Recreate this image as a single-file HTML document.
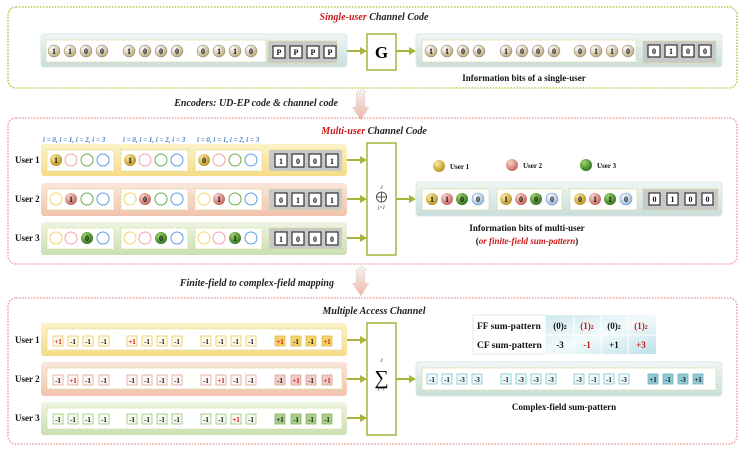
<!DOCTYPE html>
<html><head><meta charset="utf-8"><style>
html,body{margin:0;padding:0;background:#fff;}
svg{display:block;font-family:"Liberation Serif",serif;}
.b{font-size:8px;font-weight:bold;text-anchor:middle;fill:#111;}
.c{font-size:7px;font-weight:bold;text-anchor:middle;fill:#111;}
.cr{font-size:7px;font-weight:bold;text-anchor:middle;fill:#d01010;}
.t{font-size:10px;font-weight:bold;font-style:italic;text-anchor:middle;fill:#222;}
.lb{font-size:9px;font-weight:bold;fill:#111;}
.ix{font-size:7px;font-style:italic;font-weight:bold;fill:#4a7fc8;}
</style></head><body>
<svg width="748" height="456" viewBox="0 0 748 456" xmlns="http://www.w3.org/2000/svg">
<defs>
<radialGradient id="gs" cx="35%" cy="30%" r="75%"><stop offset="0" stop-color="#ffffff"/><stop offset="1" stop-color="#b9a57a"/></radialGradient>
<radialGradient id="gy" cx="35%" cy="30%" r="75%"><stop offset="0" stop-color="#fbeaa0"/><stop offset="1" stop-color="#b88f1c"/></radialGradient>
<radialGradient id="gp" cx="35%" cy="30%" r="75%"><stop offset="0" stop-color="#f9d2cc"/><stop offset="1" stop-color="#c0625a"/></radialGradient>
<radialGradient id="gg" cx="35%" cy="30%" r="75%"><stop offset="0" stop-color="#9fd36e"/><stop offset="1" stop-color="#2c7018"/></radialGradient>
<radialGradient id="gb" cx="35%" cy="30%" r="75%"><stop offset="0" stop-color="#ffffff"/><stop offset="1" stop-color="#94b5d6"/></radialGradient>
<linearGradient id="bar" x1="0" y1="0" x2="0" y2="1"><stop offset="0" stop-color="#eef6f4"/><stop offset="1" stop-color="#c9dedb"/></linearGradient>
<linearGradient id="by" x1="0" y1="0" x2="0" y2="1"><stop offset="0" stop-color="#fdf3c8"/><stop offset="1" stop-color="#f6dc86"/></linearGradient>
<linearGradient id="bp" x1="0" y1="0" x2="0" y2="1"><stop offset="0" stop-color="#fbe6dc"/><stop offset="1" stop-color="#f1c3ad"/></linearGradient>
<linearGradient id="bg" x1="0" y1="0" x2="0" y2="1"><stop offset="0" stop-color="#eef5e4"/><stop offset="1" stop-color="#cadfb3"/></linearGradient>
<linearGradient id="arr" x1="0" y1="0" x2="0" y2="1"><stop offset="0" stop-color="#f4f4f4"/><stop offset="1" stop-color="#efb5a8"/></linearGradient>
<linearGradient id="cell" x1="0" y1="0" x2="1" y2="1"><stop offset="0" stop-color="#cfe9ef"/><stop offset="0.5" stop-color="#f2fafb"/><stop offset="1" stop-color="#bfe0e8"/></linearGradient>
</defs>

<!-- PANEL 1 -->
<rect x="8" y="7" width="729" height="81" rx="8" fill="none" stroke="#b7c64a" stroke-width="1.6" stroke-dasharray="1.5 1.5"/>
<text x="374" y="20" class="t"><tspan fill="#c81818">Single-user</tspan> Channel Code</text>
<rect x="41" y="34" width="306" height="33" rx="3" fill="url(#bar)" stroke="#dfe7e4"/>
<rect x="46" y="40" width="220" height="22" fill="#fff" stroke="#d7db9a" stroke-dasharray="1.5 1"/>
<rect x="268" y="41" width="69" height="22" fill="#c8c8c8" stroke="#d7db9a" stroke-dasharray="1.5 1"/>
<g>
<circle cx="54" cy="51" r="6" fill="url(#gs)" stroke="#8a7a55" stroke-width=".5"/><text x="54" y="54" class="b">1</text>
<circle cx="70" cy="51" r="6" fill="url(#gs)" stroke="#8a7a55" stroke-width=".5"/><text x="70" y="54" class="b">1</text>
<circle cx="86" cy="51" r="6" fill="url(#gs)" stroke="#8a7a55" stroke-width=".5"/><text x="86" y="54" class="b">0</text>
<circle cx="102" cy="51" r="6" fill="url(#gs)" stroke="#8a7a55" stroke-width=".5"/><text x="102" y="54" class="b">0</text>
<circle cx="129" cy="51" r="6" fill="url(#gs)" stroke="#8a7a55" stroke-width=".5"/><text x="129" y="54" class="b">1</text>
<circle cx="145" cy="51" r="6" fill="url(#gs)" stroke="#8a7a55" stroke-width=".5"/><text x="145" y="54" class="b">0</text>
<circle cx="161" cy="51" r="6" fill="url(#gs)" stroke="#8a7a55" stroke-width=".5"/><text x="161" y="54" class="b">0</text>
<circle cx="177" cy="51" r="6" fill="url(#gs)" stroke="#8a7a55" stroke-width=".5"/><text x="177" y="54" class="b">0</text>
<circle cx="203" cy="51" r="6" fill="url(#gs)" stroke="#8a7a55" stroke-width=".5"/><text x="203" y="54" class="b">0</text>
<circle cx="219" cy="51" r="6" fill="url(#gs)" stroke="#8a7a55" stroke-width=".5"/><text x="219" y="54" class="b">1</text>
<circle cx="235" cy="51" r="6" fill="url(#gs)" stroke="#8a7a55" stroke-width=".5"/><text x="235" y="54" class="b">1</text>
<circle cx="251" cy="51" r="6" fill="url(#gs)" stroke="#8a7a55" stroke-width=".5"/><text x="251" y="54" class="b">0</text>
</g>
<g fill="#fff" stroke="#333" stroke-width="1.2">
<rect x="273" y="46" width="12" height="12"/><rect x="290" y="46" width="12" height="12"/><rect x="307" y="46" width="12" height="12"/><rect x="324" y="46" width="12" height="12"/>
</g>
<text x="279" y="55" class="b">P</text><text x="296" y="55" class="b">P</text><text x="313" y="55" class="b">P</text><text x="330" y="55" class="b">P</text>
<line x1="347" y1="51" x2="361" y2="51" stroke="#a7b43c" stroke-width="2"/><polygon points="360,47 367,51 360,55" fill="#a7b43c"/>
<rect x="367" y="34" width="29" height="36" fill="#fff" stroke="#a7b43c" stroke-width="1.5"/>
<text x="381.5" y="58" style="font-size:17px;font-weight:bold;text-anchor:middle">G</text>
<line x1="396" y1="51" x2="410" y2="51" stroke="#a7b43c" stroke-width="2"/><polygon points="409,47 416,51 409,55" fill="#a7b43c"/>
<rect x="416" y="34" width="306" height="33" rx="3" fill="url(#bar)" stroke="#dfe7e4"/>
<rect x="422" y="40" width="214" height="22" fill="#fff" stroke="#d7db9a" stroke-dasharray="1.5 1"/>
<rect x="643" y="41" width="73" height="22" fill="#c8c8c8" stroke="#d7db9a" stroke-dasharray="1.5 1"/>
<g>
<circle cx="431" cy="51" r="6" fill="url(#gs)" stroke="#8a7a55" stroke-width=".5"/><text x="431" y="54" class="b">1</text>
<circle cx="447" cy="51" r="6" fill="url(#gs)" stroke="#8a7a55" stroke-width=".5"/><text x="447" y="54" class="b">1</text>
<circle cx="463" cy="51" r="6" fill="url(#gs)" stroke="#8a7a55" stroke-width=".5"/><text x="463" y="54" class="b">0</text>
<circle cx="479" cy="51" r="6" fill="url(#gs)" stroke="#8a7a55" stroke-width=".5"/><text x="479" y="54" class="b">0</text>
<circle cx="506" cy="51" r="6" fill="url(#gs)" stroke="#8a7a55" stroke-width=".5"/><text x="506" y="54" class="b">1</text>
<circle cx="522" cy="51" r="6" fill="url(#gs)" stroke="#8a7a55" stroke-width=".5"/><text x="522" y="54" class="b">0</text>
<circle cx="538" cy="51" r="6" fill="url(#gs)" stroke="#8a7a55" stroke-width=".5"/><text x="538" y="54" class="b">0</text>
<circle cx="554" cy="51" r="6" fill="url(#gs)" stroke="#8a7a55" stroke-width=".5"/><text x="554" y="54" class="b">0</text>
<circle cx="580" cy="51" r="6" fill="url(#gs)" stroke="#8a7a55" stroke-width=".5"/><text x="580" y="54" class="b">0</text>
<circle cx="596" cy="51" r="6" fill="url(#gs)" stroke="#8a7a55" stroke-width=".5"/><text x="596" y="54" class="b">1</text>
<circle cx="612" cy="51" r="6" fill="url(#gs)" stroke="#8a7a55" stroke-width=".5"/><text x="612" y="54" class="b">1</text>
<circle cx="628" cy="51" r="6" fill="url(#gs)" stroke="#8a7a55" stroke-width=".5"/><text x="628" y="54" class="b">0</text>
</g>
<g fill="#fff" stroke="#333" stroke-width="1.2">
<rect x="648" y="45" width="12" height="12"/><rect x="665" y="45" width="12" height="12"/><rect x="682" y="45" width="12" height="12"/><rect x="699" y="45" width="12" height="12"/>
</g>
<text x="654" y="54" class="b">0</text><text x="671" y="54" class="b">1</text><text x="688" y="54" class="b">0</text><text x="705" y="54" class="b">0</text>
<text x="524" y="81" class="lb" text-anchor="middle">Information bits of a single-user</text>

<!-- arrow 1 -->
<polygon points="357,92 362,88 367,92 365,92 365,107 369,107 361,120 352,107 356,107 356,92" fill="url(#arr)" stroke="#e8d8d4" stroke-width=".5"/>
<text x="338" y="106" class="t" style="text-anchor:end">Encoders: UD-EP code &amp; channel code</text>

<!-- PANEL 2 -->
<rect x="8" y="118" width="729" height="146" rx="8" fill="none" stroke="#f0a0a0" stroke-width="1.6" stroke-dasharray="1.5 1.5"/>
<text x="374" y="134" class="t"><tspan fill="#c81818">Multi-user</tspan> Channel Code</text>
<text x="43" y="142" class="ix">i = 0, i = 1, i = 2, i = 3</text>
<text x="123" y="142" class="ix">i = 0, i = 1, i = 2, i = 3</text>
<text x="197" y="142" class="ix">i = 0, i = 1, i = 2, i = 3</text>
<text x="15" y="163" class="lb">User 1</text>
<text x="15" y="202" class="lb">User 2</text>
<text x="15" y="241" class="lb">User 3</text>
<rect x="41" y="144" width="306" height="32" rx="3" fill="url(#by)"/>
<rect x="41" y="183" width="306" height="33" rx="3" fill="url(#bp)"/>
<rect x="41" y="222" width="306" height="33" rx="3" fill="url(#bg)"/>
<g fill="#fff" stroke="#d7db9a" stroke-dasharray="1.5 1">
<rect x="47" y="150" width="67" height="21"/><rect x="121" y="150" width="67" height="21"/><rect x="195" y="150" width="67" height="21"/>
<rect x="47" y="189" width="67" height="21"/><rect x="121" y="189" width="67" height="21"/><rect x="195" y="189" width="67" height="21"/>
<rect x="47" y="228" width="67" height="21"/><rect x="121" y="228" width="67" height="21"/><rect x="195" y="228" width="67" height="21"/>
</g>
<g fill="#c8c8c8" stroke="#d7db9a" stroke-dasharray="1.5 1">
<rect x="269" y="150" width="73" height="21"/><rect x="269" y="189" width="73" height="21"/><rect x="269" y="228" width="73" height="21"/>
</g>
<g fill="#fff" stroke-width="1">
<circle cx="71" cy="160" r="6" stroke="#f2a0a8"/><circle cx="87" cy="160" r="6" stroke="#6aad48"/><circle cx="103" cy="160" r="6" stroke="#5b9be0"/>
<circle cx="145" cy="160" r="6" stroke="#f2a0a8"/><circle cx="161" cy="160" r="6" stroke="#6aad48"/><circle cx="177" cy="160" r="6" stroke="#5b9be0"/>
<circle cx="219" cy="160" r="6" stroke="#f2a0a8"/><circle cx="235" cy="160" r="6" stroke="#6aad48"/><circle cx="251" cy="160" r="6" stroke="#5b9be0"/>
<circle cx="56" cy="199" r="6" stroke="#f5d56a"/><circle cx="87" cy="199" r="6" stroke="#6aad48"/><circle cx="103" cy="199" r="6" stroke="#5b9be0"/>
<circle cx="130" cy="199" r="6" stroke="#f5d56a"/><circle cx="161" cy="199" r="6" stroke="#6aad48"/><circle cx="177" cy="199" r="6" stroke="#5b9be0"/>
<circle cx="204" cy="199" r="6" stroke="#f5d56a"/><circle cx="235" cy="199" r="6" stroke="#6aad48"/><circle cx="251" cy="199" r="6" stroke="#5b9be0"/>
<circle cx="56" cy="238" r="6" stroke="#f5d56a"/><circle cx="71" cy="238" r="6" stroke="#f2a0a8"/><circle cx="103" cy="238" r="6" stroke="#5b9be0"/>
<circle cx="130" cy="238" r="6" stroke="#f5d56a"/><circle cx="145" cy="238" r="6" stroke="#f2a0a8"/><circle cx="177" cy="238" r="6" stroke="#5b9be0"/>
<circle cx="204" cy="238" r="6" stroke="#f5d56a"/><circle cx="219" cy="238" r="6" stroke="#f2a0a8"/><circle cx="251" cy="238" r="6" stroke="#5b9be0"/>
</g>
<circle cx="56" cy="160" r="6" fill="url(#gy)"/><text x="56" y="163" class="b">1</text>
<circle cx="130" cy="160" r="6" fill="url(#gy)"/><text x="130" y="163" class="b">1</text>
<circle cx="204" cy="160" r="6" fill="url(#gy)"/><text x="204" y="163" class="b">0</text>
<circle cx="71" cy="199" r="6" fill="url(#gp)"/><text x="71" y="202" class="b">1</text>
<circle cx="145" cy="199" r="6" fill="url(#gp)"/><text x="145" y="202" class="b">0</text>
<circle cx="219" cy="199" r="6" fill="url(#gp)"/><text x="219" y="202" class="b">1</text>
<circle cx="87" cy="238" r="6" fill="url(#gg)"/><text x="87" y="241" class="b">0</text>
<circle cx="161" cy="238" r="6" fill="url(#gg)"/><text x="161" y="241" class="b">0</text>
<circle cx="235" cy="238" r="6" fill="url(#gg)"/><text x="235" y="241" class="b">1</text>
<g fill="#fff" stroke="#333" stroke-width="1.2">
<rect x="275" y="154" width="12" height="13"/><rect x="292" y="154" width="12" height="13"/><rect x="309" y="154" width="12" height="13"/><rect x="326" y="154" width="12" height="13"/>
<rect x="275" y="193" width="12" height="13"/><rect x="292" y="193" width="12" height="13"/><rect x="309" y="193" width="12" height="13"/><rect x="326" y="193" width="12" height="13"/>
<rect x="275" y="232" width="12" height="13"/><rect x="292" y="232" width="12" height="13"/><rect x="309" y="232" width="12" height="13"/><rect x="326" y="232" width="12" height="13"/>
</g>
<text x="281" y="164" class="b">1</text><text x="298" y="164" class="b">0</text><text x="315" y="164" class="b">0</text><text x="332" y="164" class="b">1</text>
<text x="281" y="203" class="b">0</text><text x="298" y="203" class="b">1</text><text x="315" y="203" class="b">0</text><text x="332" y="203" class="b">1</text>
<text x="281" y="242" class="b">1</text><text x="298" y="242" class="b">0</text><text x="315" y="242" class="b">0</text><text x="332" y="242" class="b">0</text>
<g stroke="#a7b43c" stroke-width="2"><line x1="347" y1="160" x2="361" y2="160"/><line x1="347" y1="199" x2="361" y2="199"/><line x1="347" y1="238" x2="361" y2="238"/><line x1="396" y1="199" x2="410" y2="199"/></g>
<g fill="#a7b43c"><polygon points="360,156 367,160 360,164"/><polygon points="360,195 367,199 360,203"/><polygon points="360,234 367,238 360,242"/><polygon points="409,195 416,199 409,203"/></g>
<rect x="367" y="143" width="29" height="112" fill="#fff" stroke="#a7b43c" stroke-width="1.5"/>
<text x="381.5" y="189" style="font-size:5px;font-style:italic;text-anchor:middle">J</text>
<circle cx="381.5" cy="197" r="5" fill="none" stroke="#333" stroke-width=".8"/><line x1="376.5" y1="197" x2="386.5" y2="197" stroke="#333" stroke-width=".8"/><line x1="381.5" y1="192" x2="381.5" y2="202" stroke="#333" stroke-width=".8"/>
<text x="381.5" y="209" style="font-size:5px;font-style:italic;text-anchor:middle">j=1</text>
<circle cx="439" cy="166" r="6" fill="url(#gy)"/><text x="450" y="169" class="lb" style="font-size:7px">User 1</text>
<circle cx="512" cy="165" r="6" fill="url(#gp)"/><text x="523" y="168" class="lb" style="font-size:7px">User 2</text>
<circle cx="586" cy="165" r="6" fill="url(#gg)"/><text x="597" y="168" class="lb" style="font-size:7px">User 3</text>
<rect x="416" y="182" width="306" height="34" rx="3" fill="url(#bar)" stroke="#dfe7e4"/>
<g fill="#fff" stroke="#d7db9a" stroke-dasharray="1.5 1"><rect x="422" y="189" width="67" height="21"/><rect x="497" y="189" width="65" height="21"/><rect x="570" y="189" width="67" height="21"/></g>
<rect x="643" y="189" width="75" height="21" fill="#c8c8c8" stroke="#d7db9a" stroke-dasharray="1.5 1"/>
<circle cx="432" cy="199" r="6" fill="url(#gy)"/><text x="432" y="202" class="b">1</text>
<circle cx="447" cy="199" r="6" fill="url(#gp)"/><text x="447" y="202" class="b">1</text>
<circle cx="462" cy="199" r="6" fill="url(#gg)"/><text x="462" y="202" class="b">0</text>
<circle cx="478" cy="199" r="6" fill="url(#gb)" stroke="#6f9cc8" stroke-width=".6"/><text x="478" y="202" class="b">0</text>
<circle cx="506" cy="199" r="6" fill="url(#gy)"/><text x="506" y="202" class="b">1</text>
<circle cx="521" cy="199" r="6" fill="url(#gp)"/><text x="521" y="202" class="b">0</text>
<circle cx="536" cy="199" r="6" fill="url(#gg)"/><text x="536" y="202" class="b">0</text>
<circle cx="552" cy="199" r="6" fill="url(#gb)" stroke="#6f9cc8" stroke-width=".6"/><text x="552" y="202" class="b">0</text>
<circle cx="580" cy="199" r="6" fill="url(#gy)"/><text x="580" y="202" class="b">0</text>
<circle cx="595" cy="199" r="6" fill="url(#gp)"/><text x="595" y="202" class="b">1</text>
<circle cx="610" cy="199" r="6" fill="url(#gg)"/><text x="610" y="202" class="b">1</text>
<circle cx="626" cy="199" r="6" fill="url(#gb)" stroke="#6f9cc8" stroke-width=".6"/><text x="626" y="202" class="b">0</text>
<g fill="#fff" stroke="#333" stroke-width="1.2"><rect x="649" y="193" width="11" height="12"/><rect x="667" y="193" width="11" height="12"/><rect x="685" y="193" width="11" height="12"/><rect x="702" y="193" width="11" height="12"/></g>
<text x="654.5" y="202" class="b">0</text><text x="672.5" y="202" class="b">1</text><text x="690.5" y="202" class="b">0</text><text x="707.5" y="202" class="b">0</text>
<text x="527" y="231" class="lb" text-anchor="middle">Information bits of multi-user</text>
<text x="527" y="244" class="lb" text-anchor="middle">(<tspan fill="#c81818" font-style="italic">or finite-field sum-pattern</tspan>)</text>

<!-- arrow 2 -->
<polygon points="357,270 362,266 367,270 365,270 365,283 369,283 361,296 352,283 356,283 356,270" fill="url(#arr)" stroke="#e8d8d4" stroke-width=".5"/>
<text x="334" y="286" class="t" style="text-anchor:end">Finite-field to complex-field mapping</text>

<!-- PANEL 3 -->
<rect x="8" y="298" width="729" height="146" rx="8" fill="none" stroke="#f0a0a0" stroke-width="1.6" stroke-dasharray="1.5 1.5"/>
<text x="374" y="314" class="t">Multiple Access Channel</text>
<text x="15" y="343" class="lb">User 1</text>
<text x="15" y="382" class="lb">User 2</text>
<text x="15" y="421" class="lb">User 3</text>
<rect x="41" y="323" width="306" height="33" rx="3" fill="url(#by)"/>
<rect x="41" y="362" width="306" height="34" rx="3" fill="url(#bp)"/>
<rect x="41" y="402" width="306" height="33" rx="3" fill="url(#bg)"/>
<g fill="#fff" stroke="#d7db9a" stroke-dasharray="1.5 1">
<rect x="47" y="329" width="295" height="21"/><rect x="47" y="368" width="295" height="21"/><rect x="47" y="408" width="295" height="21"/>
</g>
<g stroke-width=".8">
<g stroke="#e8c860" fill="#fffbea">
<rect x="53" y="336" width="10" height="10"/><rect x="68" y="336" width="10" height="10"/><rect x="83" y="336" width="10" height="10"/><rect x="99" y="336" width="10" height="10"/>
<rect x="127" y="336" width="10" height="10"/><rect x="142" y="336" width="10" height="10"/><rect x="157" y="336" width="10" height="10"/><rect x="172" y="336" width="10" height="10"/>
<rect x="201" y="336" width="10" height="10"/><rect x="216" y="336" width="10" height="10"/><rect x="231" y="336" width="10" height="10"/><rect x="246" y="336" width="10" height="10"/>
</g>
<g stroke="#e0bb48" fill="#f5d36a">
<rect x="275" y="336" width="10" height="10"/><rect x="291" y="336" width="10" height="10"/><rect x="306" y="336" width="10" height="10"/><rect x="322" y="336" width="10" height="10"/>
</g>
<g stroke="#e0a49c" fill="#fff6f3">
<rect x="53" y="375" width="10" height="10"/><rect x="68" y="375" width="10" height="10"/><rect x="83" y="375" width="10" height="10"/><rect x="99" y="375" width="10" height="10"/>
<rect x="127" y="375" width="10" height="10"/><rect x="142" y="375" width="10" height="10"/><rect x="157" y="375" width="10" height="10"/><rect x="172" y="375" width="10" height="10"/>
<rect x="201" y="375" width="10" height="10"/><rect x="216" y="375" width="10" height="10"/><rect x="231" y="375" width="10" height="10"/><rect x="246" y="375" width="10" height="10"/>
</g>
<g stroke="#d9a098" fill="#f0cdc6">
<rect x="275" y="375" width="10" height="10"/><rect x="291" y="375" width="10" height="10"/><rect x="306" y="375" width="10" height="10"/><rect x="322" y="375" width="10" height="10"/>
</g>
<g stroke="#9cc47e" fill="#f4faee">
<rect x="53" y="414" width="10" height="10"/><rect x="68" y="414" width="10" height="10"/><rect x="83" y="414" width="10" height="10"/><rect x="99" y="414" width="10" height="10"/>
<rect x="127" y="414" width="10" height="10"/><rect x="142" y="414" width="10" height="10"/><rect x="157" y="414" width="10" height="10"/><rect x="172" y="414" width="10" height="10"/>
<rect x="201" y="414" width="10" height="10"/><rect x="216" y="414" width="10" height="10"/><rect x="231" y="414" width="10" height="10"/><rect x="246" y="414" width="10" height="10"/>
</g>
<g stroke="#86b566" fill="#a8cf8a">
<rect x="275" y="414" width="10" height="10"/><rect x="291" y="414" width="10" height="10"/><rect x="306" y="414" width="10" height="10"/><rect x="322" y="414" width="10" height="10"/>
</g>
</g>
<text x="58" y="344" class="cr">+1</text><text x="73" y="344" class="c">-1</text><text x="88" y="344" class="c">-1</text><text x="104" y="344" class="c">-1</text>
<text x="132" y="344" class="cr">+1</text><text x="147" y="344" class="c">-1</text><text x="162" y="344" class="c">-1</text><text x="177" y="344" class="c">-1</text>
<text x="206" y="344" class="c">-1</text><text x="221" y="344" class="c">-1</text><text x="236" y="344" class="c">-1</text><text x="251" y="344" class="c">-1</text>
<text x="280" y="344" class="cr">+1</text><text x="296" y="344" class="c">-1</text><text x="311" y="344" class="c">-1</text><text x="327" y="344" class="cr">+1</text>
<text x="58" y="383" class="c">-1</text><text x="73" y="383" class="cr">+1</text><text x="88" y="383" class="c">-1</text><text x="104" y="383" class="c">-1</text>
<text x="132" y="383" class="c">-1</text><text x="147" y="383" class="c">-1</text><text x="162" y="383" class="c">-1</text><text x="177" y="383" class="c">-1</text>
<text x="206" y="383" class="c">-1</text><text x="221" y="383" class="cr">+1</text><text x="236" y="383" class="c">-1</text><text x="251" y="383" class="c">-1</text>
<text x="280" y="383" class="c">-1</text><text x="296" y="383" class="cr">+1</text><text x="311" y="383" class="c">-1</text><text x="327" y="383" class="cr">+1</text>
<text x="58" y="422" class="c">-1</text><text x="73" y="422" class="c">-1</text><text x="88" y="422" class="c">-1</text><text x="104" y="422" class="c">-1</text>
<text x="132" y="422" class="c">-1</text><text x="147" y="422" class="c">-1</text><text x="162" y="422" class="c">-1</text><text x="177" y="422" class="c">-1</text>
<text x="206" y="422" class="c">-1</text><text x="221" y="422" class="c">-1</text><text x="236" y="422" class="cr">+1</text><text x="251" y="422" class="c">-1</text>
<text x="280" y="422" class="c">+1</text><text x="296" y="422" class="c">-1</text><text x="311" y="422" class="c">-1</text><text x="327" y="422" class="c">-1</text>

<g stroke="#a7b43c" stroke-width="2"><line x1="347" y1="340" x2="361" y2="340"/><line x1="347" y1="379" x2="361" y2="379"/><line x1="347" y1="418" x2="361" y2="418"/><line x1="396" y1="379" x2="410" y2="379"/></g>
<g fill="#a7b43c"><polygon points="360,336 367,340 360,344"/><polygon points="360,375 367,379 360,383"/><polygon points="360,414 367,418 360,422"/><polygon points="409,375 416,379 409,383"/></g>
<rect x="367" y="323" width="29" height="112" fill="#fff" stroke="#a7b43c" stroke-width="1.5"/>
<text x="381.5" y="362" style="font-size:5px;font-style:italic;text-anchor:middle">J</text>
<text x="381.5" y="384" style="font-size:20px;text-anchor:middle">∑</text>
<text x="381.5" y="390" style="font-size:5px;font-style:italic;text-anchor:middle">j=1</text>

<rect x="473" y="315" width="73" height="39" fill="#fff" stroke="#e0e8ea"/>
<rect x="546" y="315" width="110" height="39" fill="url(#cell)"/>
<g stroke="#ffffff" stroke-width="1"><line x1="473" y1="335" x2="656" y2="335"/><line x1="574" y1="315" x2="574" y2="354"/><line x1="601" y1="315" x2="601" y2="354"/><line x1="628" y1="315" x2="628" y2="354"/></g>
<text x="477" y="329" class="lb" style="font-size:9.5px">FF sum-pattern</text>
<text x="477" y="348" class="lb" style="font-size:9.5px">CF sum-pattern</text>
<text x="560" y="329" class="lb" text-anchor="middle">(0)<tspan font-size="6">2</tspan></text>
<text x="587" y="329" class="lb" text-anchor="middle" style="fill:#c81818">(1)<tspan font-size="6">2</tspan></text>
<text x="614" y="329" class="lb" text-anchor="middle">(0)<tspan font-size="6">2</tspan></text>
<text x="641" y="329" class="lb" text-anchor="middle" style="fill:#c81818">(1)<tspan font-size="6">2</tspan></text>
<text x="560" y="348" class="lb" text-anchor="middle">-3</text>
<text x="587" y="348" class="lb" text-anchor="middle" style="fill:#c81818">-1</text>
<text x="614" y="348" class="lb" text-anchor="middle">+1</text>
<text x="641" y="348" class="lb" text-anchor="middle" style="fill:#c81818">+3</text>

<rect x="416" y="362" width="306" height="34" rx="3" fill="url(#bar)" stroke="#dfe7e4"/>
<rect x="422" y="368" width="294" height="22" fill="#fff" stroke="#d7db9a" stroke-dasharray="1.5 1"/>
<g stroke-width=".8">
<g stroke="#7fc2cf" fill="#eef9fb">
<rect x="427" y="374" width="10" height="10"/><rect x="442" y="374" width="10" height="10"/><rect x="457" y="374" width="10" height="10"/><rect x="472" y="374" width="10" height="10"/>
<rect x="501" y="374" width="10" height="10"/><rect x="516" y="374" width="10" height="10"/><rect x="531" y="374" width="10" height="10"/><rect x="546" y="374" width="10" height="10"/>
<rect x="574" y="374" width="10" height="10"/><rect x="589" y="374" width="10" height="10"/><rect x="604" y="374" width="10" height="10"/><rect x="619" y="374" width="10" height="10"/>
</g>
<g stroke="#6fb0c0" fill="#92c9d6">
<rect x="648" y="374" width="10" height="10"/><rect x="663" y="374" width="10" height="10"/><rect x="678" y="374" width="10" height="10"/><rect x="693" y="374" width="10" height="10"/>
</g>
</g>
<text x="432" y="382" class="c">-1</text><text x="447" y="382" class="c">-1</text><text x="462" y="382" class="c">-3</text><text x="477" y="382" class="c">-3</text>
<text x="506" y="382" class="c">-1</text><text x="521" y="382" class="c">-3</text><text x="536" y="382" class="c">-3</text><text x="551" y="382" class="c">-3</text>
<text x="579" y="382" class="c">-3</text><text x="594" y="382" class="c">-1</text><text x="609" y="382" class="c">-1</text><text x="624" y="382" class="c">-3</text>
<text x="653" y="382" class="c">+1</text><text x="668" y="382" class="c">-1</text><text x="683" y="382" class="c">-3</text><text x="698" y="382" class="c">+1</text>
<text x="564" y="410" class="lb" text-anchor="middle">Complex-field sum-pattern</text>
</svg>
</body></html>
